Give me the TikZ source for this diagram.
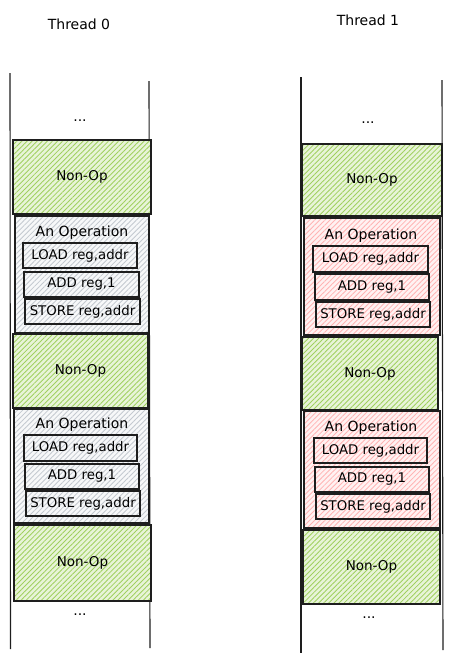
\documentclass[tikz,border=0pt]{standalone}
\usepackage{fontspec}
\setmainfont{DejaVu Sans}
\usetikzlibrary{patterns.meta}
\definecolor{hgreen}{RGB}{160,208,95}
\definecolor{bggreen}{RGB}{232,244,216}
\definecolor{hpink}{RGB}{255,180,180}
\definecolor{bgpink}{RGB}{255,242,242}
\definecolor{hgray}{RGB}{196,201,208}
\definecolor{bggray}{RGB}{247,248,249}
\definecolor{ink}{RGB}{30,30,30}
\begin{document}
\begin{tikzpicture}[x=1pt,y=-1pt,
  hatch/.style={pattern={Lines[angle=45,distance=3.6pt,line width=0.85pt]},pattern color=#1},
  nonop/.style={draw=ink,line width=1.3pt,inner sep=0pt,preaction={fill=bggreen},hatch=hgreen,font=\fontsize{13.5}{15}\selectfont},
  opgray/.style={draw=ink,line width=1.3pt,inner sep=0pt,preaction={fill=bggray},hatch=hgray},
  oppink/.style={draw=ink,line width=1.3pt,inner sep=0pt,preaction={fill=bgpink},hatch=hpink},
  instr/.style={draw=ink,line width=1.5pt,inner sep=0pt,minimum height=25pt,font=\fontsize{13.3}{15}\selectfont},
  optitle/.style={inner sep=0pt,font=\fontsize{14}{16}\selectfont},
  dots/.style={inner sep=0pt,font=\fontsize{14}{16}\selectfont},
  ttl/.style={inner sep=0pt,font=\fontsize{14}{16}\selectfont},
  rail/.style={draw=ink,line width=1.1pt}]
\useasboundingbox (0,0) rectangle (452,662);
% titles
\node[ttl] (t0) at (79,24) {Thread 0};
\node[ttl] (t1) at (368,20) {Thread 1};
% rails
\coordinate (l0t) at (10,73); \coordinate (l0b) at (10.5,649);
\coordinate (r0t) at (149,81); \coordinate (r0b) at (150,648);
\coordinate (l1t) at (301,77); \coordinate (l1b) at (301,653);
\coordinate (r1t) at (442,80); \coordinate (r1b) at (443,650);
\draw[rail] (l0t) -- (l0b);
\draw[rail] (r0t) -- (r0b);
\draw[rail] (l1t) -- (l1b);
\draw[rail] (r1t) -- (r1b);
% ----- Thread 0
\node[dots] (d0a) at (80,121) {...};
\node[nonop,minimum width=138pt,minimum height=74pt] (n0a) at (82,177) {Non-Op};
\node[opgray,minimum width=134pt,minimum height=117pt] (o0a) at (82,274.5) {};
\node[optitle] (o0at) at (82,233) {An Operation};
\node[instr,minimum width=114pt] (o0al) at (80,255.5) {LOAD reg,addr};
\node[instr,minimum width=115pt] (o0aa) at (81.5,284.5) {ADD reg,1};
\node[instr,minimum width=115pt] (o0as) at (82.5,311.5) {STORE reg,addr};
\node[nonop,minimum width=135pt,minimum height=74pt] (n0b) at (80.5,371) {Non-Op};
\node[opgray,minimum width=135pt,minimum height=114pt] (o0b) at (81.5,466) {};
\node[optitle] (o0bt) at (82,425) {An Operation};
\node[instr,minimum width=113pt,minimum height=26pt] (o0bl) at (80.5,448) {LOAD reg,addr};
\node[instr,minimum width=114pt] (o0ba) at (82,476.5) {ADD reg,1};
\node[instr,minimum width=114pt] (o0bs) at (83,503.5) {STORE reg,addr};
\node[nonop,minimum width=137pt,minimum height=76pt] (n0c) at (82.5,563) {Non-Op};
\node[dots] (d0b) at (80,615) {...};
% ----- Thread 1
\node[dots] (d1a) at (368,123) {...};
\node[nonop,minimum width=140pt,minimum height=72pt] (n1a) at (372,180) {Non-Op};
\node[oppink,minimum width=136pt,minimum height=117pt] (o1a) at (372,276.5) {};
\node[optitle] (o1at) at (371,236) {An Operation};
\node[instr,minimum width=115pt,minimum height=26pt] (o1al) at (370.5,259) {LOAD reg,addr};
\node[instr,minimum width=114pt,minimum height=26pt] (o1aa) at (372,287) {ADD reg,1};
\node[instr,minimum width=114pt] (o1as) at (373,314.5) {STORE reg,addr};
\node[nonop,minimum width=136pt,minimum height=73pt] (n1b) at (370,373.5) {Non-Op};
\node[oppink,minimum width=136pt,minimum height=117pt] (o1b) at (372,469.5) {};
\node[optitle] (o1bt) at (371,428) {An Operation};
\node[instr,minimum width=113pt] (o1bl) at (370.5,450.5) {LOAD reg,addr};
\node[instr,minimum width=114pt] (o1ba) at (372,479.5) {ADD reg,1};
\node[instr,minimum width=114pt] (o1bs) at (373,506.5) {STORE reg,addr};
\node[nonop,minimum width=137pt,minimum height=74pt] (n1c) at (371.5,567) {Non-Op};
\node[dots] (d1b) at (369,618) {...};
\end{tikzpicture}
\end{document}
